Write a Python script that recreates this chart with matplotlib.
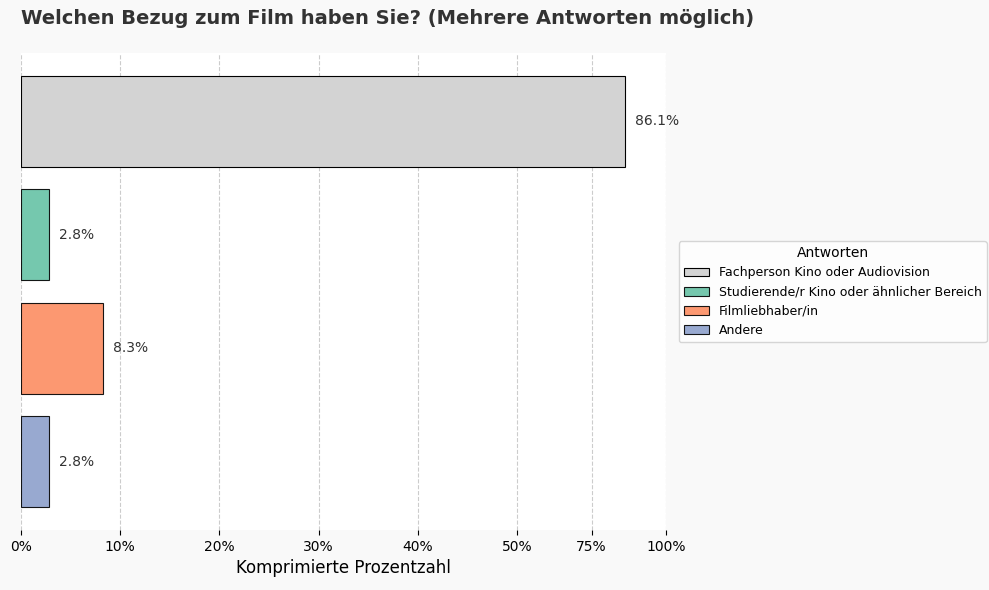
import numpy as np
import matplotlib.pyplot as plt

categories = ["Fachperson Kino oder Audiovision",
              "Studierende/r Kino oder ähnlicher Bereich",
              "Filmliebhaber/in",
              "Andere"]
values = [86.1, 2.8, 8.3, 2.8]
colors = ["#d3d3d3", "#66c2a5", "#fc8d62", "#8da0cb"]
tick_values = [0, 10, 20, 30, 40, 50, 75, 100]


def compress(v):
    v = np.asarray(v, dtype=float)
    return np.where(v <= 50, v, 50 + (v - 50) * 0.3)


fig = plt.figure(figsize=(9.89, 5.9), dpi=100, facecolor="#f9f9f9")
ax = fig.add_axes([21 / 989, 60 / 590, 645 / 989, 477 / 590])
ax.set_facecolor("white")

y = np.arange(len(categories))[::-1]
cv = compress(values)
for yi, v, c, lab, raw in zip(y, cv, colors, categories, values):
    alpha = 1.0 if c == "#d3d3d3" else 0.9
    ax.barh(yi, v, height=0.8, color=c, alpha=alpha, edgecolor="black",
            linewidth=0.8, label=lab)
    ax.text(v + 1, yi, f"{raw:.1f}%", va="center", fontsize=10, color="#333333")

ax.set_xlim(0, 65)
ax.set_ylim(-0.6, 3.6)
ax.set_xticks(compress(tick_values))
ax.set_xticklabels([f"{t}%" for t in tick_values])
ax.set_yticks([])
ax.set_xlabel("Komprimierte Prozentzahl", fontsize=12)
ax.grid(axis="x", linestyle="--", color="#cccccc", linewidth=0.8)
ax.set_axisbelow(True)
for s in ax.spines.values():
    s.set_visible(False)

leg = ax.legend(title="Antworten", loc="center left", bbox_to_anchor=(1.01, 0.5),
                fontsize=9, title_fontsize=10, frameon=True)

fig.text(21 / 989, 1 - 19 / 590, "Welchen Bezug zum Film haben Sie? (Mehrere Antworten möglich)",
         fontsize=14, fontweight="bold", color="#333333", va="center", ha="left")

fig.savefig("out.png", dpi=100, facecolor=fig.get_facecolor())
